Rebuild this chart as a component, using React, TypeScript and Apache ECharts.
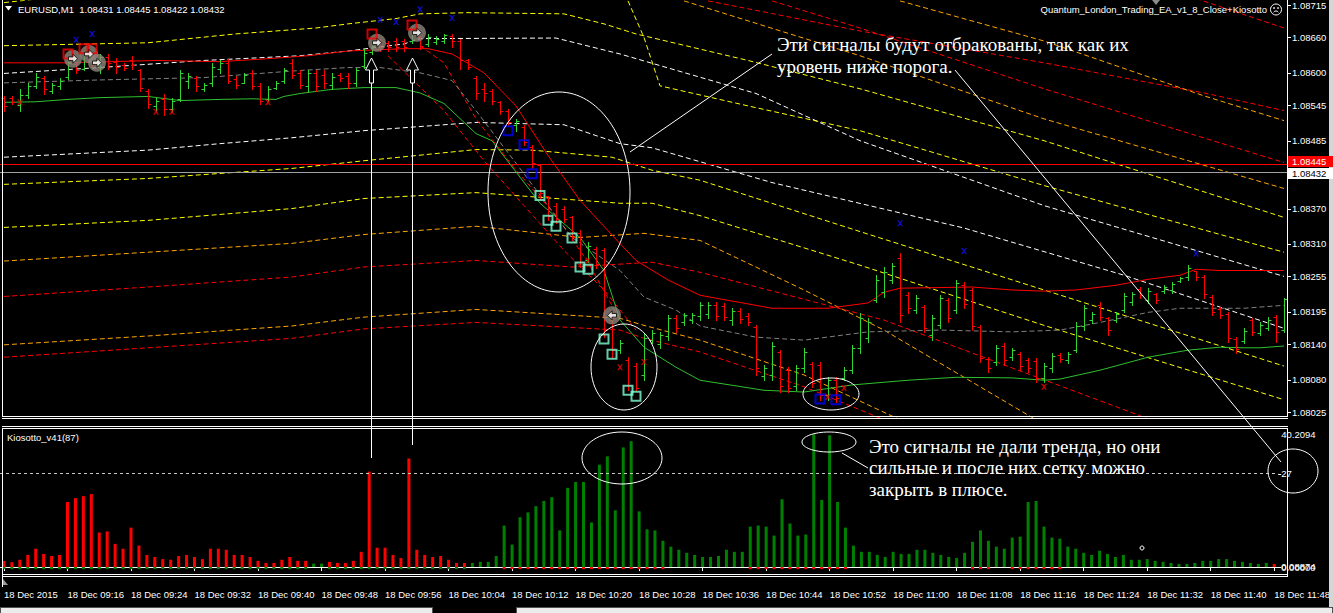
import React, { useEffect, useRef } from 'react';
import * as echarts from 'echarts';

const SANS = '"Liberation Sans", Arial, sans-serif';
const SERIF = '"Liberation Serif", "Times New Roman", serif';

// ---------- texts ----------
const SYMBOL = 'EURUSD,M1';
const QUOTE = [1.08431, 1.08445, 1.08422, 1.08432];
const EA_NAME = 'Quantum_London_Trading_EA_v1_8_Close+Kiosotto';
const INDICATOR_NAME = 'Kiosotto_v41(87)';
const DAY_LABEL = '18 Dec';
const FIRST_TIME_LABEL = '18 Dec 2015';
const NOTE_1 = ['Эти сигналы будут отбракованы, так как их', 'уровень ниже порога.'];
const NOTE_2 = ['Это сигналы не дали тренда, но они', 'сильные и после них сетку можно', 'закрыть в плюсе.'];

// ---------- categories (M1 bars from 09:08) ----------
const FIRST_BAR_MINUTE = 9 * 60 + 8;
const BAR_COUNT = 161;
const pad = (n: number) => String(n).padStart(2, '0');
const BAR_TIMES = Array.from({ length: BAR_COUNT }, (_, i) => {
  const m = FIRST_BAR_MINUTE + i;
  return `${pad(Math.floor(m / 60))}:${pad(m % 60)}`;
});

// ---------- price scale ----------
const PRICE_MIN = 1.08015;
const PRICE_MAX = 1.08722;
const PRICE_STEP = 0.00005;
const PRICE_TICKS = [1.08715, 1.0866, 1.086, 1.08545, 1.08485, 1.0837, 1.0831, 1.08255, 1.08195, 1.0814, 1.0808, 1.08025];
const PRICE_LINES = [1.08445, 1.08432];

// ---------- OHLC ----------
const OPEN = [
  1.08558, 1.08558, 1.08546, 1.08563, 1.08578, 1.08592, 1.0857, 1.08577, 1.08593, 1.08615,
  1.08607, 1.08631, 1.0861, 1.08627, 1.08619, 1.08614, 1.08621, 1.08604, 1.0857, 1.08543,
  1.08556, 1.08539, 1.08556, 1.08587, 1.08592, 1.08573, 1.08583, 1.08607, 1.08617, 1.0859,
  1.08583, 1.08599, 1.08578, 1.08556, 1.08575, 1.08587, 1.08617, 1.08599, 1.08577, 1.08599,
  1.08597, 1.0858, 1.08597, 1.08595, 1.08583, 1.08612, 1.08636, 1.08654, 1.08651, 1.08654,
  1.08654, 1.08654, 1.08661, 1.08649, 1.08653, 1.08654, 1.08663, 1.08654, 1.08621, 1.08592,
  1.08573, 1.0857, 1.08551, 1.08536, 1.08511, 1.08509, 1.08475, 1.08443, 1.08391, 1.08375,
  1.0837, 1.08355, 1.08328, 1.08282, 1.08301, 1.08299, 1.08181, 1.0813, 1.08113, 1.08103,
  1.08088, 1.08147, 1.0814, 1.08154, 1.08184, 1.08177, 1.08181, 1.08188, 1.08191, 1.08206,
  1.08205, 1.08181, 1.08196, 1.08188, 1.08169, 1.08086, 1.08088, 1.08127, 1.08096, 1.08069,
  1.081, 1.08106, 1.08105, 1.08054, 1.08079, 1.08083, 1.08096, 1.08134, 1.0815, 1.08215,
  1.08228, 1.08249, 1.08286, 1.08223, 1.08198, 1.08203, 1.08155, 1.08172, 1.08215, 1.08198,
  1.0824, 1.08232, 1.08169, 1.08115, 1.0811, 1.08137, 1.08118, 1.08123, 1.08113, 1.08112,
  1.08083, 1.081, 1.08122, 1.08113, 1.0813, 1.08171, 1.08181, 1.08206, 1.08184, 1.08181,
  1.08198, 1.08211, 1.08233, 1.08215, 1.08225, 1.0823, 1.08232, 1.08247, 1.08254, 1.08264,
  1.08254, 1.0822, 1.08199, 1.08191, 1.08149, 1.08145, 1.08181, 1.08159, 1.08167, 1.08186,
  1.08164,
];
const HIGH = [
  1.08561, 1.08561, 1.08572, 1.08583, 1.08599, 1.08595, 1.08583, 1.08592, 1.08621, 1.08617,
  1.08637, 1.08634, 1.08632, 1.08632, 1.08626, 1.08617, 1.08629, 1.08607, 1.08573, 1.08558,
  1.08565, 1.08558, 1.08604, 1.086, 1.08595, 1.08583, 1.08617, 1.08621, 1.08624, 1.08595,
  1.086, 1.08604, 1.08583, 1.08578, 1.08587, 1.08609, 1.08624, 1.08604, 1.08604, 1.08604,
  1.08604, 1.08599, 1.08599, 1.086, 1.08609, 1.08641, 1.08651, 1.08658, 1.08654, 1.08659,
  1.08658, 1.08676, 1.08663, 1.08666, 1.08663, 1.08666, 1.08666, 1.08658, 1.08624, 1.08595,
  1.08582, 1.08573, 1.08553, 1.08539, 1.08522, 1.08511, 1.08477, 1.08446, 1.08392, 1.08379,
  1.08375, 1.08358, 1.08333, 1.08313, 1.08304, 1.08303, 1.08193, 1.08147, 1.08118, 1.08108,
  1.08159, 1.08164, 1.08161, 1.08189, 1.08189, 1.08193, 1.08193, 1.08211, 1.08211, 1.08211,
  1.0821, 1.08201, 1.08201, 1.08193, 1.08172, 1.08105, 1.08144, 1.0813, 1.08101, 1.08105,
  1.08134, 1.0811, 1.0811, 1.08084, 1.08084, 1.08101, 1.08139, 1.08193, 1.08184, 1.08257,
  1.08271, 1.08277, 1.08294, 1.08228, 1.08223, 1.08206, 1.08189, 1.08223, 1.08218, 1.08249,
  1.08245, 1.08235, 1.08172, 1.08118, 1.08139, 1.08142, 1.08134, 1.08127, 1.08117, 1.08117,
  1.08108, 1.08125, 1.08125, 1.08127, 1.08177, 1.08206, 1.08194, 1.08211, 1.08186, 1.08194,
  1.08227, 1.08228, 1.08237, 1.08235, 1.08227, 1.0824, 1.08245, 1.08254, 1.08274, 1.08265,
  1.08257, 1.08223, 1.08203, 1.08194, 1.08152, 1.08167, 1.08184, 1.08177, 1.08186, 1.08189,
  1.08218,
];
const LOW = [
  1.08536, 1.08548, 1.08536, 1.08558, 1.08575, 1.08565, 1.08566, 1.08573, 1.0859, 1.086,
  1.08604, 1.0861, 1.086, 1.08607, 1.086, 1.08604, 1.08607, 1.0857, 1.08541, 1.08536,
  1.08528, 1.08533, 1.08553, 1.08575, 1.0857, 1.0857, 1.08578, 1.086, 1.08583, 1.08575,
  1.08582, 1.08573, 1.08548, 1.08553, 1.08573, 1.08583, 1.08592, 1.08575, 1.0857, 1.0857,
  1.08575, 1.08573, 1.08587, 1.08575, 1.08578, 1.08609, 1.08632, 1.08637, 1.08637, 1.08637,
  1.08637, 1.08651, 1.08641, 1.08646, 1.08649, 1.08651, 1.08643, 1.08607, 1.08607, 1.08556,
  1.08553, 1.08548, 1.08531, 1.08511, 1.08502, 1.08477, 1.08438, 1.08387, 1.0835, 1.08345,
  1.08347, 1.08316, 1.08271, 1.08279, 1.08269, 1.08152, 1.08118, 1.08125, 1.08062, 1.08062,
  1.08079, 1.08142, 1.08134, 1.08147, 1.08161, 1.08172, 1.08176, 1.08181, 1.08184, 1.08181,
  1.08181, 1.08172, 1.08176, 1.08172, 1.08088, 1.08079, 1.08079, 1.08059, 1.08059, 1.08062,
  1.08093, 1.08068, 1.08046, 1.08046, 1.08042, 1.08079, 1.08091, 1.08125, 1.08144, 1.08211,
  1.0822, 1.08243, 1.08177, 1.08193, 1.08193, 1.08161, 1.08147, 1.08167, 1.08177, 1.08193,
  1.08201, 1.08164, 1.0811, 1.08093, 1.08105, 1.08105, 1.08113, 1.08096, 1.08093, 1.08076,
  1.08076, 1.08093, 1.0811, 1.08108, 1.08127, 1.08164, 1.08176, 1.08181, 1.08155, 1.08177,
  1.08194, 1.08206, 1.08218, 1.0821, 1.0821, 1.08227, 1.08227, 1.08245, 1.08249, 1.08249,
  1.08218, 1.08189, 1.08184, 1.08144, 1.08125, 1.08142, 1.08155, 1.08155, 1.08164, 1.08144,
  1.08161,
];
const CLOSE = [
  1.08544, 1.08551, 1.08563, 1.08578, 1.08593, 1.08572, 1.0858, 1.08587, 1.08617, 1.08604,
  1.08631, 1.08615, 1.08627, 1.08617, 1.0861, 1.08609, 1.08614, 1.08575, 1.08548, 1.08553,
  1.08539, 1.08553, 1.08599, 1.08595, 1.08577, 1.0858, 1.0861, 1.08617, 1.08587, 1.0858,
  1.08597, 1.08578, 1.08553, 1.08573, 1.08583, 1.08605, 1.08597, 1.0858, 1.08599, 1.08577,
  1.08583, 1.08593, 1.08592, 1.08582, 1.08604, 1.08634, 1.08646, 1.08643, 1.08643, 1.08644,
  1.08643, 1.08671, 1.08646, 1.08661, 1.08658, 1.08665, 1.08654, 1.08621, 1.0861, 1.08566,
  1.08566, 1.08553, 1.08536, 1.08517, 1.08519, 1.08482, 1.08448, 1.08396, 1.08357, 1.08353,
  1.08352, 1.08321, 1.08279, 1.08306, 1.08276, 1.08164, 1.0813, 1.08142, 1.08071, 1.08066,
  1.0815, 1.08159, 1.08155, 1.08184, 1.08167, 1.08189, 1.08189, 1.08206, 1.08206, 1.08188,
  1.08186, 1.08196, 1.08183, 1.08177, 1.081, 1.081, 1.08137, 1.08069, 1.08066, 1.081,
  1.08127, 1.08074, 1.08054, 1.08079, 1.08049, 1.08096, 1.08134, 1.08184, 1.08177, 1.08249,
  1.08262, 1.08272, 1.08189, 1.08201, 1.08218, 1.08167, 1.08184, 1.08218, 1.08184, 1.08243,
  1.08208, 1.08171, 1.08117, 1.081, 1.08134, 1.08113, 1.0813, 1.08103, 1.081, 1.08083,
  1.08103, 1.0812, 1.08115, 1.08123, 1.08171, 1.08201, 1.08191, 1.08186, 1.08164, 1.08191,
  1.08221, 1.08225, 1.08223, 1.0823, 1.08215, 1.08237, 1.08242, 1.08252, 1.08269, 1.08254,
  1.08225, 1.08194, 1.08189, 1.0815, 1.08132, 1.08162, 1.08161, 1.08172, 1.08181, 1.08161,
  1.08216,
];

// ---------- overlay lines [barIndex, price] ----------
const GREEN_MA = [[0,1.0855],[4,1.08551],[8,1.08555],[12,1.08558],[18,1.0856],[22,1.08553],[27,1.08555],[31,1.08556],[34,1.08555],[35,1.0856],[37,1.08565],[41,1.08572],[45,1.08575],[49,1.08575],[52,1.08566],[55,1.08548],[59,1.08497],[61,1.08485],[67,1.08379],[72,1.08321],[75,1.08265],[77,1.08181],[80,1.08135],[84,1.08101],[87,1.08079],[95,1.08062],[100,1.08059],[106,1.08071],[113,1.08079],[119,1.08084],[126,1.08083],[130,1.08079],[132,1.08081],[137,1.08096],[143,1.08118],[148,1.0813],[152,1.08135],[155,1.08134],[157,1.08134],[160,1.08137]];
const RED_MA = [[0,1.08617],[8,1.08617],[19,1.08621],[27,1.08619],[33,1.08624],[38,1.08629],[43,1.08637],[50,1.08641],[53,1.08641],[56,1.08632],[60,1.086],[64,1.08544],[68,1.0846],[72,1.08384],[76,1.08325],[79,1.08282],[83,1.08249],[87,1.08223],[96,1.08201],[103,1.08201],[108,1.0821],[110,1.08228],[112,1.08235],[121,1.08237],[126,1.08232],[130,1.0823],[134,1.08232],[139,1.0824],[143,1.0825],[147,1.08257],[149,1.08267],[152,1.08265],[160,1.08265]];
const GRAY_MID = [[0,1.08583],[12,1.08588],[25,1.08592],[37,1.08604],[43,1.08609],[47,1.08609],[52,1.086],[56,1.08587],[59,1.08536],[65,1.08429],[71,1.08321],[77,1.08265],[80,1.0822],[84,1.08198],[87,1.08171],[94,1.08152],[100,1.08147],[108,1.08161],[117,1.08164],[126,1.08161],[132,1.08164],[137,1.08177],[143,1.08194],[147,1.08201],[155,1.08201],[160,1.08206]];
const YELLOW_TOP = [[0,1.08719],[6,1.08728]];
const YELLOW_1 = [[0,1.08646],[18,1.08651],[29,1.08666],[39,1.08676],[43,1.08683],[49,1.08692],[52,1.087],[58,1.08702],[70,1.087],[75,1.08683],[79,1.08666],[93,1.08621],[107,1.08573],[130,1.08485],[160,1.08355]];
const WHITE_1 = [[0,1.08599],[12,1.08609],[25,1.08621],[37,1.08629],[43,1.08637],[50,1.08649],[52,1.08658],[69,1.08659],[77,1.08632],[94,1.08565],[107,1.08485],[130,1.08375],[160,1.08255]];
const WHITE_2 = [[0,1.08457],[18,1.08469],[27,1.0848],[36,1.0849],[45,1.08502],[59,1.08516],[70,1.08512],[77,1.0848],[81,1.08473],[96,1.08414],[120,1.08337],[140,1.08257],[160,1.08167]];
const YELLOW_2 = [[0,1.08411],[18,1.08421],[36,1.08438],[45,1.08451],[59,1.0847],[66,1.08469],[76,1.08457],[81,1.08435],[87,1.08418],[107,1.08331],[130,1.08232],[160,1.08103]];
const YELLOW_3 = [[0,1.08338],[18,1.0835],[36,1.0837],[45,1.08387],[59,1.08397],[77,1.08379],[81,1.08379],[87,1.08358],[107,1.08274],[130,1.08172],[160,1.08046]];
const ORANGE_1 = [[0,1.08281],[18,1.08296],[36,1.08311],[45,1.08326],[59,1.0834],[72,1.08321],[80,1.08328],[87,1.08316],[100,1.08232],[110,1.08164],[129,1.08012]];
const RED_1 = [[0,1.08221],[18,1.08237],[36,1.08254],[45,1.08271],[59,1.08282],[71,1.08271],[81,1.08279],[87,1.08262],[110,1.08181],[141,1.08024],[145,1.08003]];
const ORANGE_2 = [[0,1.08139],[18,1.08154],[36,1.08171],[45,1.08186],[59,1.08199],[77,1.08184],[80,1.08172],[87,1.08147],[100,1.08088],[112,1.08012]];
const RED_2 = [[0,1.08118],[18,1.08134],[36,1.0815],[45,1.08166],[59,1.08177],[77,1.08164],[80,1.0815],[87,1.08127],[100,1.08068],[110,1.08012]];
const RED_UP_1 = [[149,1.08726],[160,1.08676]];
const RED_UP_2 = [[88,1.08722],[107,1.08671],[130,1.08617],[150,1.08566],[160,1.08536]];
const ORANGE_UP_1 = [[112,1.08722],[130,1.08654],[150,1.08561],[160,1.08519]];
const RED_UP_3 = [[96,1.08722],[107,1.08676],[130,1.08573],[160,1.08448]];
const ORANGE_UP_2 = [[85,1.08722],[107,1.08629],[130,1.08522],[160,1.08404]];
const YELLOW_4 = [[78,1.08722],[80,1.0866],[82,1.08578],[93,1.08544],[107,1.08502],[130,1.08409],[160,1.08296]];
const RED_DIAG_1 = [[48,1.08629],[55,1.08536],[60,1.08451],[65,1.08375],[70,1.08299],[75,1.08232],[79,1.08164]];
const RED_DIAG_2 = [[52,1.08646],[55,1.08617],[59,1.08522],[64,1.08435],[69,1.08358],[73,1.08279],[77,1.08181]];

// ---------- signal markers [barIndex, price] ----------
const BLUE_X = [[9,1.08656],[11,1.08666],[47,1.0869],[49,1.08686],[52,1.08708],[56,1.08693],[112,1.08345],[120,1.08298],[149,1.08294]];
const RED_X = [[2,1.0855],[19,1.08534],[21,1.08534],[33,1.0855],[73,1.08282],[77,1.08101],[80,1.0811],[103,1.08051],[105,1.08066],[130,1.08068]];
const BLUE_SQUARES = [[63,1.08502],[65,1.08478],[66,1.08429],[102,1.08047],[104,1.08046]];
const AQUA_SQUARES = [[67,1.08392],[68,1.0835],[69,1.0834],[71,1.0832],[72,1.08271],[73,1.08267],[75,1.08149],[76,1.08123],[78,1.08062],[79,1.08052]];
const RED_SQUARES = [[8,1.08632],[10,1.08641],[11,1.08641],[46,1.08666],[51,1.08681]];
const CLOSE_MARKS = [[8,1.08624],[10,1.08632],[11,1.08617],[46,1.08651],[51,1.08668]];
const CLOSE_MARK_LEFT = [[76,1.08189]];

// ---------- Kiosotto histogram ----------
const HIST = [
  1.8, 1.4, 2.1, 3.5, 5.3, 3.8, 3.2, 3.5, 18.8, 19.9,
  20.5, 21.1, 10.0, 10.3, 6.7, 5.3, 11.4, 6.2, 3.5, 2.9,
  2.3, 2.1, 3.2, 3.5, 2.9, 2.3, 5.3, 5.3, 5.0, 3.5,
  3.5, 2.9, 1.8, 1.2, 1.2, 2.1, 2.9, 1.8, 1.8, 1.0,
  1.0, 1.5, 1.2, 1.2, 1.8, 4.4, 27.6, 5.6, 5.6, 3.5,
  2.6, 31.4, 5.0, 3.5, 2.9, 3.2, 2.1, 1.2, 1.2, 1.2,
  1.5, 1.5, 3.2, 12.0, 6.5, 14.4, 15.8, 17.6, 19.1, 20.2,
  10.6, 22.9, 24.6, 24.6, 12.9, 29.6, 32.0, 16.4, 34.6, 36.4,
  16.1, 10.9, 10.6, 7.6, 5.9, 5.0, 4.1, 3.5, 2.9, 2.9,
  3.2, 5.0, 4.4, 4.4, 11.7, 12.0, 11.7, 9.1, 19.6, 12.6,
  9.1, 9.4, 38.4, 19.4, 38.1, 18.8, 11.4, 6.2, 4.4, 4.4,
  3.5, 2.9, 4.4, 3.8, 3.8, 5.0, 5.0, 4.1, 3.5, 2.9,
  2.6, 4.1, 7.3, 10.6, 7.6, 5.9, 5.3, 8.5, 8.8, 18.8,
  19.1, 11.7, 8.5, 8.2, 5.9, 5.3, 4.1, 3.5, 4.7, 3.8,
  2.9, 3.5, 2.1, 2.1, 2.3, 1.8, 1.5, 1.2, 0.9, 0.9,
  1.2, 1.8, 1.8, 2.3, 2.3, 1.8, 1.5, 1.2, 0.9, 1.2,
  0.9,
];
// -1 = bears (red), 1 = bulls (green)
const HIST_SIDE = [
  -1, -1, -1, -1, -1, -1, -1, -1, -1, -1,
  -1, -1, -1, -1, -1, -1, -1, -1, -1, -1,
  -1, -1, -1, -1, -1, -1, -1, -1, -1, -1,
  -1, -1, -1, -1, -1, -1, -1, -1, -1, 1,
  1, -1, -1, -1, -1, -1, -1, -1, -1, -1,
  -1, -1, -1, -1, -1, -1, -1, -1, -1, 1,
  1, 1, 1, 1, 1, 1, 1, 1, 1, 1,
  1, 1, 1, 1, 1, 1, 1, 1, 1, 1,
  1, 1, 1, 1, 1, 1, 1, 1, 1, 1,
  1, 1, 1, 1, 1, 1, 1, 1, 1, 1,
  1, 1, 1, 1, 1, 1, 1, 1, 1, 1,
  1, 1, 1, 1, 1, 1, 1, 1, 1, 1,
  1, 1, 1, 1, 1, 1, 1, 1, 1, 1,
  1, 1, 1, 1, 1, 1, 1, 1, 1, 1,
  1, 1, 1, 1, 1, 1, 1, 1, 1, 1,
  1, 1, 1, 1, 1, 1, 1, 1, 1, 1,
  -1,
];
// opposite buffer visible at the zero line (1 = visible)
const HIST_OPPOSITE = [
  1, 1, 1, 1, 1, 1, 1, 1, 1, 1,
  1, 1, 1, 1, 1, 1, 1, 1, 1, 1,
  1, 1, 1, 1, 1, 1, 1, 1, 1, 1,
  1, 1, 1, 1, 1, 1, 1, 1, 1, 0,
  0, 1, 1, 1, 1, 1, 1, 1, 1, 1,
  1, 1, 1, 1, 1, 1, 1, 1, 1, 0,
  0, 0, 0, 1, 1, 1, 1, 1, 1, 1,
  1, 1, 1, 1, 1, 1, 1, 1, 1, 1,
  1, 1, 1, 1, 0, 0, 0, 0, 0, 0,
  0, 0, 0, 0, 1, 1, 1, 1, 1, 1,
  1, 1, 1, 1, 1, 1, 1, 0, 0, 0,
  0, 0, 0, 0, 0, 0, 0, 0, 0, 0,
  0, 0, 1, 1, 1, 0, 0, 1, 1, 1,
  1, 1, 1, 1, 0, 0, 0, 0, 0, 0,
  0, 0, 0, 0, 0, 0, 0, 0, 0, 0,
  0, 0, 0, 0, 0, 0, 0, 0, 0, 0,
  0,
];
const HIST_LEVEL = 27;
const HIST_MIN = -2.3;
const HIST_MAX = 40.2094;
const HIST_SCALE = [40.2094, 27, 0.08874, 0];
const HIST_SCALE_TEXT = ['40.2094', '27', '0.08874', '0.00000'];

// ---------- styles ----------
const UP = '#32d732';
const DOWN = '#ff0000';
const HIST_GREEN = '#008000';
const YELLOW = '#ffff00';
const ORANGE = '#ffa500';
const WHITE = '#ffffff';
const GRAY = '#808080';
const DASH = [5, 3];
const OPP_DASH = -0.6;
const PRICE_LINE_STYLE = [
  { line: '#ff0000', box: '#ff0000', text: '#ffffff', shift: -3 },
  { line: '#a0a0a0', box: '#ffffff', text: '#000000', shift: 1 },
];
const X_PATH = 'path://M0,0L2,0L4,2.5L6,0L8,0L5,4L8,8L6,8L4,5.5L2,8L0,8L3,4Z';
const ARROW_RIGHT = 'path://M0,3L5,3L5,0L10,5L5,10L5,7L0,7Z';
const ARROW_LEFT = 'path://M10,3L5,3L5,0L0,5L5,10L5,7L10,7Z';

const fmt5 = (v: number) => v.toFixed(5);

function buildOption() {
  const tickSet = new Set(PRICE_TICKS.map((v) => Math.round(v * 1e5)));
  const dashed = (data: number[][], color: string) => ({
    type: 'line', xAxisIndex: 0, yAxisIndex: 0, data, symbol: 'none', silent: true, z: 2, clip: true,
    lineStyle: { color, width: 1, type: DASH },
  });

  const series: any[] = [
    dashed(YELLOW_TOP, YELLOW),
    dashed(YELLOW_1, YELLOW),
    dashed(WHITE_1, WHITE),
    dashed(WHITE_2, WHITE),
    dashed(YELLOW_2, YELLOW),
    dashed(YELLOW_3, YELLOW),
    dashed(ORANGE_1, ORANGE),
    dashed(RED_1, DOWN),
    dashed(ORANGE_2, ORANGE),
    dashed(RED_2, DOWN),
    dashed(RED_UP_1, DOWN),
    dashed(RED_UP_2, DOWN),
    dashed(ORANGE_UP_1, ORANGE),
    dashed(RED_UP_3, DOWN),
    dashed(ORANGE_UP_2, ORANGE),
    dashed(YELLOW_4, YELLOW),
    dashed(RED_DIAG_1, DOWN),
    dashed(RED_DIAG_2, DOWN),
    dashed(GRAY_MID, GRAY),
    {
      // bid / ask lines with their price-scale labels
      type: 'custom', xAxisIndex: 0, yAxisIndex: 0, silent: true, z: 3, clip: false,
      data: PRICE_LINES.map((v) => [0, v]),
      renderItem: (params: any, api: any) => {
        const cs = params.coordSys;
        const st = PRICE_LINE_STYLE[params.dataIndex];
        const v = api.value(1);
        const y = Math.round(api.coord([0, v])[1]) + 0.5;
        const ty = y + st.shift;
        const xr = cs.x + cs.width;
        return {
          type: 'group',
          children: [
            { type: 'line', shape: { x1: cs.x, y1: y, x2: xr, y2: y }, style: { stroke: st.line, lineWidth: 1 } },
            { type: 'rect', shape: { x: xr, y: ty - 5.5, width: 45, height: 11 }, style: { fill: st.box } },
            {
              type: 'text', x: xr + 4, y: ty,
              style: { text: fmt5(v), fill: st.text, font: `9.5px ${SANS}`, align: 'left', textAlign: 'left', verticalAlign: 'middle', textVerticalAlign: 'middle' },
            },
          ],
        };
      },
    },
    {
      type: 'line', xAxisIndex: 0, yAxisIndex: 0, data: RED_MA, symbol: 'none', silent: true, z: 3, clip: true,
      lineStyle: { color: '#ff0000', width: 1 },
    },
    {
      type: 'line', xAxisIndex: 0, yAxisIndex: 0, data: GREEN_MA, symbol: 'none', silent: true, z: 3, clip: true,
      lineStyle: { color: '#2fbf2f', width: 1 },
    },
    {
      type: 'custom', xAxisIndex: 0, yAxisIndex: 0, silent: true, z: 4,
      data: OPEN.map((o, i) => [i, o, HIGH[i], LOW[i], CLOSE[i]]),
      encode: { x: 0, y: [1, 2, 3, 4] },
      renderItem: (params: any, api: any) => {
        const i = api.value(0);
        const o = api.value(1), h = api.value(2), l = api.value(3), c = api.value(4);
        const ph = api.coord([i, h]);
        const pl = api.coord([i, l]);
        const po = api.coord([i, o]);
        const pc = api.coord([i, c]);
        const x = Math.round(ph[0]) + 0.5;
        const color = c >= o ? UP : DOWN;
        const yo = Math.round(po[1]) + 0.5;
        const yc = Math.round(pc[1]) + 0.5;
        return {
          type: 'group',
          children: [
            { type: 'line', shape: { x1: x, y1: Math.round(ph[1]), x2: x, y2: Math.round(pl[1]) + 1 }, style: { stroke: color, lineWidth: 1 } },
            { type: 'line', shape: { x1: x - 3, y1: yo, x2: x, y2: yo }, style: { stroke: color, lineWidth: 1 } },
            { type: 'line', shape: { x1: x, y1: yc, x2: x + 3, y2: yc }, style: { stroke: color, lineWidth: 1 } },
          ],
        };
      },
    },
    {
      type: 'scatter', xAxisIndex: 0, yAxisIndex: 0, silent: true, z: 5,
      data: [...CLOSE_MARKS.map((d) => ({ value: d, symbolOffset: [5, 0] })), ...CLOSE_MARK_LEFT],
      symbol: 'circle', symbolSize: 18, itemStyle: { color: '#8c857b' },
    },
    {
      type: 'scatter', xAxisIndex: 0, yAxisIndex: 0, silent: true, z: 6, data: RED_SQUARES,
      symbol: 'rect', symbolSize: 9, itemStyle: { color: 'rgba(0,0,0,0)', borderColor: '#ff0000', borderWidth: 2 },
    },
    {
      type: 'scatter', xAxisIndex: 0, yAxisIndex: 0, silent: true, z: 7,
      data: [...CLOSE_MARKS.map((d) => ({ value: d, symbolOffset: [5, 0] })), ...CLOSE_MARK_LEFT.map((d) => ({ value: d, symbol: ARROW_LEFT }))],
      symbol: ARROW_RIGHT, symbolSize: 9, itemStyle: { color: '#ffffff', borderColor: '#000000', borderWidth: 1 },
    },
    {
      type: 'scatter', xAxisIndex: 0, yAxisIndex: 0, silent: true, z: 6, data: BLUE_SQUARES,
      symbol: 'rect', symbolSize: 9, itemStyle: { color: 'rgba(0,0,0,0)', borderColor: '#0000ff', borderWidth: 2 },
    },
    {
      type: 'scatter', xAxisIndex: 0, yAxisIndex: 0, silent: true, z: 6, data: AQUA_SQUARES,
      symbol: 'rect', symbolSize: 9, itemStyle: { color: 'rgba(0,0,0,0)', borderColor: '#7fffd4', borderWidth: 2 },
    },
    {
      type: 'scatter', xAxisIndex: 0, yAxisIndex: 0, silent: true, z: 6, data: BLUE_X,
      symbol: X_PATH, symbolSize: [6, 6], itemStyle: { color: '#1010ff' },
    },
    {
      type: 'scatter', xAxisIndex: 0, yAxisIndex: 0, silent: true, z: 6, data: RED_X,
      symbol: X_PATH, symbolSize: [6, 6], itemStyle: { color: '#ff0000' },
    },
    {
      // price scale tick marks
      type: 'custom', xAxisIndex: 0, yAxisIndex: 0, silent: true, z: 10, clip: false,
      data: PRICE_TICKS.map((v) => [0, v]),
      renderItem: (params: any, api: any) => {
        const cs = params.coordSys;
        const y = Math.round(api.coord([0, api.value(1)])[1]) + 0.5;
        const x = cs.x + cs.width;
        return { type: 'line', shape: { x1: x, y1: y, x2: x + 3, y2: y }, style: { stroke: '#ffffff', lineWidth: 1 } };
      },
    },
    {
      type: 'bar', xAxisIndex: 1, yAxisIndex: 1, silent: true, z: 3, barWidth: 3, barGap: '-100%',
      data: HIST.map((v, i) => ({ value: v, itemStyle: { color: HIST_SIDE[i] < 0 ? DOWN : HIST_GREEN } })),
      markLine: {
        silent: true, symbol: ['none', 'none'], animation: false, label: { show: false },
        data: [{ yAxis: HIST_LEVEL, lineStyle: { color: '#c8c8c8', width: 1, type: [3, 3] } }],
      },
    },
    {
      type: 'bar', xAxisIndex: 1, yAxisIndex: 1, silent: true, z: 4, barWidth: 3, barGap: '-100%',
      data: HIST_OPPOSITE.map((f, i) => (f ? { value: OPP_DASH, itemStyle: { color: HIST_SIDE[i] < 0 ? HIST_GREEN : DOWN } } : '-')),
    },
    {
      type: 'custom', xAxisIndex: 1, yAxisIndex: 1, silent: true, z: 10, clip: false,
      data: HIST_SCALE.map((v) => [0, v]),
      renderItem: (params: any, api: any) => {
        const cs = params.coordSys;
        const y = api.coord([0, api.value(1)])[1];
        const x = cs.x + cs.width;
        const isTop = params.dataIndex === 0;
        return {
          type: 'group',
          children: [
            { type: 'line', shape: { x1: x, y1: Math.round(y) + 0.5, x2: x + 3, y2: Math.round(y) + 0.5 }, style: { stroke: '#ffffff', lineWidth: 1 } },
            {
              type: 'text', x: x + 3, y: isTop ? y + 1 : y,
              style: {
                text: HIST_SCALE_TEXT[params.dataIndex], fill: '#ffffff', font: `9.5px ${SANS}`,
                align: 'left', textAlign: 'left',
                verticalAlign: isTop ? 'top' : 'middle', textVerticalAlign: isTop ? 'top' : 'middle',
              },
            },
          ],
        };
      },
    },
  ];

  const txt = (x: number, y: number, text: string, font: string, align = 'left') => ({
    type: 'text', x, y, z: 80, silent: true,
    style: { text, fill: '#ffffff', font, align, textAlign: align, verticalAlign: 'middle', textVerticalAlign: 'middle' },
  });
  const ln = (x1: number, y1: number, x2: number, y2: number, z = 60) => ({
    type: 'line', z, silent: true, shape: { x1, y1, x2, y2 }, style: { stroke: '#ffffff', lineWidth: 1 },
  });
  const ell = (cx: number, cy: number, rx: number, ry: number) => ({
    type: 'ellipse', z: 80, silent: true, shape: { cx, cy, rx, ry }, style: { fill: 'none', stroke: '#ffffff', lineWidth: 1 },
  });
  const upArrow = (cx: number) => ({
    type: 'polygon', z: 81, silent: true,
    shape: { points: [[cx, 58], [cx + 6, 70], [cx + 2, 70], [cx + 2, 83], [cx - 2, 83], [cx - 2, 70], [cx - 6, 70]] },
    style: { fill: '#000000', stroke: '#ffffff', lineWidth: 1 },
  });

  const graphic: any[] = [
    // window chrome
    { type: 'rect', z: 1, silent: true, shape: { x: 1329, y: 0, width: 4, height: 607 }, style: { fill: '#d6d6d6' } },
    { type: 'rect', z: 1, silent: true, shape: { x: 0.5, y: 607.5, width: 432, height: 6 }, style: { fill: '#ececec', stroke: '#505050', lineWidth: 1 } },
    { type: 'rect', z: 1, silent: true, shape: { x: 516.5, y: 607.5, width: 816, height: 6 }, style: { fill: '#ececec', stroke: '#505050', lineWidth: 1 } },
    ln(2.5, 0, 2.5, 417),
    ln(1287.5, 0, 1287.5, 417),
    ln(2, 416.5, 1288, 416.5),
    ln(2, 418.5, 1288, 418.5),
    ln(2, 426.5, 1288, 426.5),
    ln(2, 428.5, 1288, 428.5),
    ln(2.5, 428, 2.5, 587),
    ln(1287.5, 428, 1287.5, 577),
    ln(2, 574.5, 1288, 574.5),
    ln(2, 576.5, 1288, 576.5),
    { type: 'polygon', z: 61, silent: true, shape: { points: [[3, 579], [3, 585], [8, 585]] }, style: { fill: '#9a9a9a' } },
    { type: 'polygon', z: 61, silent: true, shape: { points: [[1152, 0], [1160, 0], [1156, 5]] }, style: { fill: '#8a8a8a' } },
    // headers
    { type: 'polygon', z: 80, silent: true, shape: { points: [[5, 6], [12, 6], [8.5, 10.5]] }, style: { fill: '#ffffff' } },
    txt(18, 9, `${SYMBOL}  ${QUOTE.map(fmt5).join(' ')}`, `9.5px ${SANS}`),
    txt(1267, 9, EA_NAME, `9.5px ${SANS}`, 'right'),
    { type: 'circle', z: 80, silent: true, shape: { cx: 1276, cy: 9.5, r: 5.5 }, style: { fill: 'none', stroke: '#ffffff', lineWidth: 1 } },
    { type: 'circle', z: 80, silent: true, shape: { cx: 1274, cy: 8, r: 0.8 }, style: { fill: '#ffffff' } },
    { type: 'circle', z: 80, silent: true, shape: { cx: 1278, cy: 8, r: 0.8 }, style: { fill: '#ffffff' } },
    { type: 'arc', z: 80, silent: true, shape: { cx: 1276, cy: 14, r: 3, startAngle: Math.PI * 1.2, endAngle: Math.PI * 1.8, clockwise: true }, style: { fill: 'none', stroke: '#ffffff', lineWidth: 1 } },
    txt(7, 437, INDICATOR_NAME, `9.5px ${SANS}`),
    // hand-drawn annotations
    ln(371.5, 83, 371.5, 458, 80),
    ln(412.5, 83, 412.5, 445, 80),
    upArrow(371.5),
    upArrow(412.5),
    ell(559, 192, 71, 100),
    ell(624, 367, 33, 43),
    ell(831, 394, 28, 16),
    ell(622, 458, 40, 26),
    ell(829, 442, 27, 10),
    ell(1293, 471, 25, 22),
    ln(630, 152, 772, 54, 80),
    ln(955, 70, 1281, 462, 80),
    ln(842, 453, 868, 468, 80),
    { type: 'circle', z: 80, silent: true, shape: { cx: 1142, cy: 548, r: 2 }, style: { fill: 'none', stroke: '#ffffff', lineWidth: 1 } },
    ...NOTE_1.map((t, k) => txt(777, 44 + k * 22, t, `19px ${SERIF}`)),
    ...NOTE_2.map((t, k) => txt(869, 446 + k * 21.5, t, `19px ${SERIF}`)),
  ];

  return {
    animation: false,
    backgroundColor: '#000000',
    grid: [
      { left: 0, top: 0, width: 1288, height: 418, show: false },
      { left: 0, top: 428, width: 1288, height: 147, show: false },
    ],
    xAxis: [
      { type: 'category', gridIndex: 0, data: BAR_TIMES, boundaryGap: true, show: false },
      {
        type: 'category', gridIndex: 1, data: BAR_TIMES, boundaryGap: true, position: 'bottom', offset: 11,
        axisLine: { show: true, lineStyle: { color: '#ffffff', width: 1 } },
        axisTick: { show: true, interval: 7, alignWithLabel: true, length: 4, lineStyle: { color: '#ffffff' } },
        axisLabel: {
          show: true, interval: 7, align: 'left', margin: 3, color: '#ffffff', fontSize: 9.5, fontFamily: SANS,
          formatter: (v: string, i: number) => (i === 0 ? FIRST_TIME_LABEL : `${DAY_LABEL} ${v}`),
        },
        splitLine: { show: false },
      },
    ],
    yAxis: [
      {
        type: 'value', gridIndex: 0, position: 'right', min: PRICE_MIN, max: PRICE_MAX, interval: PRICE_STEP, scale: true,
        axisLine: { show: false }, axisTick: { show: false }, splitLine: { show: false },
        axisLabel: {
          show: true, margin: 4, color: '#ffffff', fontSize: 9.5, fontFamily: SANS, showMinLabel: false, showMaxLabel: false,
          formatter: (v: number) => (tickSet.has(Math.round(v * 1e5)) ? fmt5(v) : ''),
        },
      },
      {
        type: 'value', gridIndex: 1, position: 'right', min: HIST_MIN, max: HIST_MAX,
        axisLine: { show: false }, axisTick: { show: false }, axisLabel: { show: false }, splitLine: { show: false },
      },
    ],
    series,
    graphic,
  };
}

export default function App() {
  const ref = useRef<HTMLDivElement>(null);
  useEffect(() => {
    if (!ref.current) return;
    const chart = echarts.init(ref.current, null, { renderer: 'svg', width: 1333, height: 613 });
    chart.setOption(buildOption() as any);
    return () => chart.dispose();
  }, []);
  return (
    <div
      ref={ref}
      style={{ position: 'absolute', left: 0, top: 0, width: 1333, height: 613, background: '#000000' }}
    />
  );
}
